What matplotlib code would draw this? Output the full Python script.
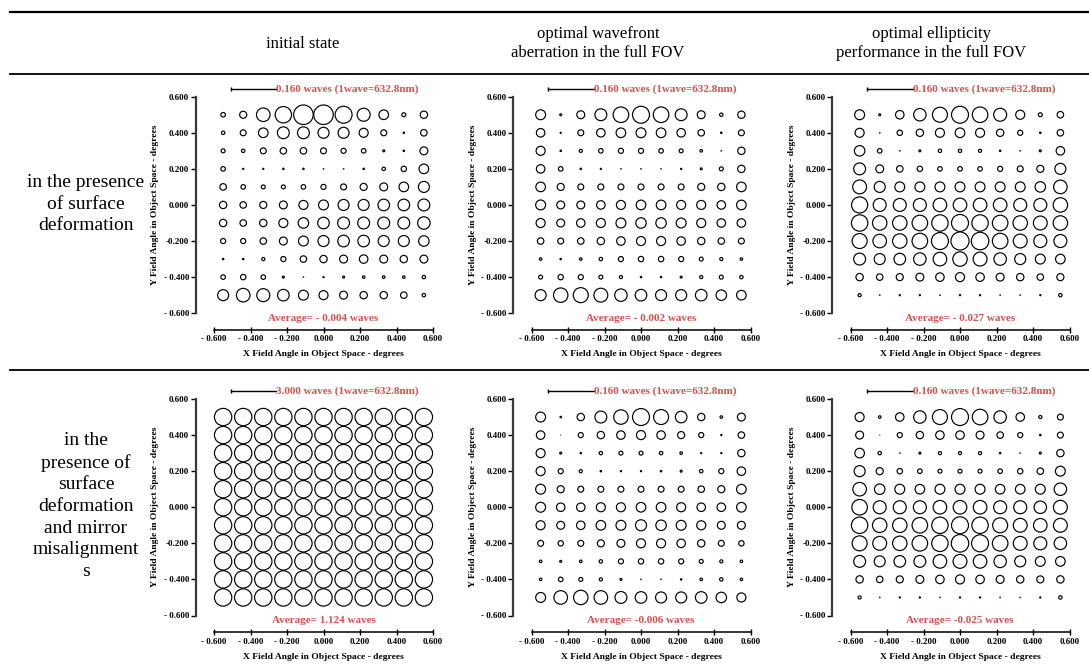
import numpy as np
import matplotlib
matplotlib.use("Agg")
import matplotlib.pyplot as plt
from matplotlib.lines import Line2D

W, H = 1089, 664
plt.rcParams['font.family'] = ['Liberation Serif', 'DejaVu Serif']

# field grid (degrees)
field_x = [-0.55, -0.44, -0.33, -0.22, -0.11, 0.00, 0.11, 0.22, 0.33, 0.44, 0.55]
field_y = [0.50, 0.40, 0.30, 0.20, 0.10, 0.00, -0.10, -0.20, -0.30, -0.40, -0.50]

col_titles = ["initial state",
              "optimal wavefront\naberration in the full FOV",
              "optimal ellipticity\nperformance in the full FOV"]
row_titles = ["in the presence\nof surface\ndeformation",
              "in the\npresence of\nsurface\ndeformation\nand mirror\nmisalignment\ns"]

scale_waves = [[0.160, 0.160, 0.160], [3.000, 0.160, 0.160]]
averages = [["Average= - 0.004 waves", "Average= - 0.002 waves", "Average= - 0.027 waves"],
            ["Average= 1.124 waves", "Average= -0.006 waves", "Average= -0.025 waves"]]

tick_vals = [-0.6, -0.4, -0.2, 0.0, 0.2, 0.4, 0.6]
x_tick_labels = ["- 0.600", "- 0.400", "- 0.200", "0.000", "0.200", "0.400", "0.600"]
y_tick_labels = ["- 0.600", "- 0.400", "-0.200", "0.000", "0.200", "0.400", "0.600"]

# wavefront error magnitude at each field point (waves), rows top -> bottom
wfe_def_initial = [
    [0.016, 0.025, 0.048, 0.058, 0.069, 0.069, 0.060, 0.046, 0.034, 0.014, 0.026],
    [0.012, 0.021, 0.034, 0.042, 0.042, 0.039, 0.039, 0.032, 0.021, 0.005, 0.023],
    [0.014, 0.012, 0.021, 0.023, 0.023, 0.021, 0.018, 0.016, 0.007, 0.005, 0.028],
    [0.016, 0.004, 0.004, 0.005, 0.005, 0.002, 0.002, 0.005, 0.012, 0.019, 0.034],
    [0.023, 0.016, 0.014, 0.014, 0.016, 0.018, 0.021, 0.025, 0.028, 0.034, 0.039],
    [0.026, 0.023, 0.025, 0.028, 0.032, 0.035, 0.039, 0.039, 0.041, 0.041, 0.042],
    [0.026, 0.023, 0.026, 0.032, 0.037, 0.041, 0.042, 0.042, 0.042, 0.042, 0.044],
    [0.018, 0.018, 0.023, 0.028, 0.035, 0.039, 0.041, 0.041, 0.039, 0.039, 0.037],
    [0.005, 0.005, 0.011, 0.018, 0.023, 0.026, 0.028, 0.030, 0.028, 0.026, 0.028],
    [0.016, 0.019, 0.016, 0.007, 0.002, 0.004, 0.007, 0.009, 0.009, 0.009, 0.012],
    [0.039, 0.048, 0.046, 0.041, 0.035, 0.032, 0.028, 0.026, 0.026, 0.023, 0.012],
]
wfe_def_wavefront = [
    [0.035, 0.007, 0.028, 0.042, 0.055, 0.060, 0.055, 0.042, 0.028, 0.012, 0.026],
    [0.030, 0.004, 0.021, 0.030, 0.034, 0.035, 0.034, 0.030, 0.023, 0.005, 0.021],
    [0.032, 0.005, 0.011, 0.016, 0.018, 0.018, 0.016, 0.014, 0.009, 0.002, 0.026],
    [0.030, 0.016, 0.005, 0.004, 0.002, 0.002, 0.002, 0.004, 0.007, 0.014, 0.026],
    [0.034, 0.025, 0.021, 0.021, 0.021, 0.021, 0.021, 0.021, 0.025, 0.026, 0.034],
    [0.035, 0.028, 0.028, 0.030, 0.032, 0.034, 0.034, 0.032, 0.032, 0.030, 0.034],
    [0.032, 0.028, 0.030, 0.032, 0.035, 0.037, 0.037, 0.035, 0.032, 0.030, 0.030],
    [0.023, 0.021, 0.023, 0.026, 0.030, 0.032, 0.032, 0.030, 0.026, 0.023, 0.021],
    [0.009, 0.005, 0.009, 0.012, 0.018, 0.019, 0.019, 0.018, 0.014, 0.011, 0.009],
    [0.014, 0.019, 0.018, 0.014, 0.011, 0.005, 0.005, 0.007, 0.011, 0.014, 0.012],
    [0.039, 0.051, 0.053, 0.049, 0.044, 0.041, 0.039, 0.039, 0.041, 0.037, 0.034],
]
wfe_def_ellipticity = [
    [0.035, 0.007, 0.030, 0.044, 0.053, 0.060, 0.055, 0.046, 0.032, 0.014, 0.023],
    [0.032, 0.002, 0.019, 0.026, 0.032, 0.034, 0.032, 0.026, 0.018, 0.005, 0.023],
    [0.037, 0.016, 0.002, 0.007, 0.012, 0.012, 0.011, 0.005, 0.002, 0.007, 0.030],
    [0.042, 0.028, 0.023, 0.019, 0.016, 0.016, 0.016, 0.018, 0.021, 0.025, 0.039],
    [0.049, 0.039, 0.035, 0.035, 0.035, 0.035, 0.035, 0.035, 0.035, 0.037, 0.048],
    [0.057, 0.046, 0.046, 0.046, 0.048, 0.048, 0.048, 0.048, 0.046, 0.046, 0.051],
    [0.058, 0.051, 0.051, 0.055, 0.058, 0.060, 0.058, 0.055, 0.051, 0.049, 0.051],
    [0.053, 0.048, 0.051, 0.055, 0.060, 0.064, 0.062, 0.055, 0.049, 0.046, 0.046],
    [0.042, 0.039, 0.041, 0.044, 0.048, 0.051, 0.049, 0.044, 0.039, 0.035, 0.034],
    [0.026, 0.023, 0.025, 0.028, 0.030, 0.032, 0.030, 0.028, 0.026, 0.023, 0.025],
    [0.011, 0.002, 0.004, 0.004, 0.002, 0.004, 0.004, 0.002, 0.002, 0.004, 0.012],
]
wfe_mis_initial = [
    [1.15, 1.15, 1.15, 1.15, 1.15, 1.15, 1.15, 1.15, 1.15, 1.15, 1.15],
    [1.15, 1.15, 1.15, 1.15, 1.15, 1.15, 1.15, 1.15, 1.15, 1.15, 1.15],
    [1.15, 1.15, 1.15, 1.15, 1.15, 1.15, 1.15, 1.15, 1.15, 1.15, 1.15],
    [1.15, 1.15, 1.15, 1.15, 1.15, 1.15, 1.15, 1.15, 1.15, 1.15, 1.15],
    [1.15, 1.15, 1.15, 1.15, 1.15, 1.15, 1.15, 1.15, 1.15, 1.15, 1.15],
    [1.15, 1.15, 1.15, 1.15, 1.15, 1.15, 1.15, 1.15, 1.15, 1.15, 1.15],
    [1.15, 1.15, 1.15, 1.15, 1.15, 1.15, 1.15, 1.15, 1.15, 1.15, 1.15],
    [1.15, 1.15, 1.15, 1.15, 1.15, 1.15, 1.15, 1.15, 1.15, 1.15, 1.15],
    [1.15, 1.15, 1.15, 1.15, 1.15, 1.15, 1.15, 1.15, 1.15, 1.15, 1.15],
    [1.15, 1.15, 1.15, 1.15, 1.15, 1.15, 1.15, 1.15, 1.15, 1.15, 1.15],
    [1.15, 1.15, 1.15, 1.15, 1.15, 1.15, 1.15, 1.15, 1.15, 1.15, 1.15],
]
wfe_mis_wavefront = [
    [0.035, 0.005, 0.026, 0.042, 0.051, 0.060, 0.053, 0.041, 0.026, 0.009, 0.028],
    [0.030, 0.001, 0.018, 0.026, 0.030, 0.032, 0.030, 0.025, 0.018, 0.004, 0.023],
    [0.032, 0.007, 0.005, 0.012, 0.014, 0.014, 0.012, 0.009, 0.004, 0.004, 0.026],
    [0.032, 0.018, 0.011, 0.005, 0.004, 0.004, 0.005, 0.007, 0.012, 0.018, 0.030],
    [0.035, 0.025, 0.021, 0.021, 0.021, 0.021, 0.021, 0.021, 0.023, 0.025, 0.034],
    [0.035, 0.030, 0.030, 0.032, 0.032, 0.034, 0.034, 0.032, 0.030, 0.030, 0.034],
    [0.032, 0.028, 0.030, 0.034, 0.035, 0.039, 0.037, 0.035, 0.032, 0.028, 0.028],
    [0.021, 0.019, 0.021, 0.025, 0.028, 0.032, 0.032, 0.030, 0.026, 0.021, 0.019],
    [0.009, 0.007, 0.009, 0.012, 0.018, 0.019, 0.019, 0.018, 0.014, 0.011, 0.009],
    [0.009, 0.016, 0.014, 0.011, 0.007, 0.002, 0.002, 0.005, 0.009, 0.012, 0.009],
    [0.035, 0.048, 0.051, 0.048, 0.042, 0.041, 0.039, 0.039, 0.041, 0.037, 0.032],
]
wfe_mis_ellipticity = [
    [0.032, 0.009, 0.030, 0.044, 0.053, 0.060, 0.055, 0.044, 0.030, 0.011, 0.021],
    [0.028, 0.001, 0.018, 0.026, 0.030, 0.030, 0.028, 0.023, 0.018, 0.005, 0.021],
    [0.034, 0.012, 0.002, 0.007, 0.011, 0.011, 0.011, 0.005, 0.002, 0.007, 0.026],
    [0.039, 0.025, 0.019, 0.016, 0.014, 0.014, 0.014, 0.016, 0.019, 0.023, 0.035],
    [0.048, 0.037, 0.035, 0.034, 0.035, 0.035, 0.035, 0.034, 0.034, 0.035, 0.044],
    [0.055, 0.046, 0.046, 0.046, 0.048, 0.048, 0.048, 0.046, 0.046, 0.044, 0.049],
    [0.058, 0.051, 0.051, 0.055, 0.058, 0.060, 0.058, 0.053, 0.049, 0.048, 0.049],
    [0.053, 0.049, 0.051, 0.055, 0.058, 0.062, 0.060, 0.055, 0.049, 0.046, 0.044],
    [0.042, 0.039, 0.041, 0.042, 0.048, 0.049, 0.048, 0.044, 0.039, 0.035, 0.034],
    [0.026, 0.023, 0.025, 0.028, 0.030, 0.032, 0.030, 0.028, 0.026, 0.025, 0.026],
    [0.011, 0.002, 0.004, 0.004, 0.002, 0.004, 0.004, 0.002, 0.002, 0.004, 0.012],
]
panels = [[wfe_def_initial, wfe_def_wavefront, wfe_def_ellipticity],
          [wfe_mis_initial, wfe_mis_wavefront, wfe_mis_ellipticity]]

RED = '#d6504c'
fig = plt.figure(figsize=(W / 100, H / 100), dpi=100)

# layout in pixels
col_left = [214, 531.5, 850.5]   # x = -0.6
row_top = [96.7, 399]            # y = +0.6
ax_w, ax_h = 219, 216.5
bar_x0, bar_len, bar_y = -0.508, 0.248, 0.643

for r in range(2):
    for c in range(3):
        x0, y0 = col_left[c], row_top[r]
        ax = fig.add_axes([x0 / W, 1 - (y0 + ax_h) / H, ax_w / W, ax_h / H])
        ax.set_xlim(-0.6, 0.6)
        ax.set_ylim(-0.6, 0.6)
        ax.patch.set_visible(False)
        for s in ['top', 'right']:
            ax.spines[s].set_visible(False)
        ax.spines['left'].set_position(('outward', 13))
        ax.spines['left'].set_color('#3a3a3a')
        ax.spines['left'].set_linewidth(1.6)
        ax.spines['bottom'].set_position(('outward', 12))
        ax.spines['bottom'].set_linewidth(1.1)
        ax.set_xticks(tick_vals, x_tick_labels)
        ax.set_yticks(tick_vals, y_tick_labels)
        ax.tick_params(axis='x', direction='inout', length=5, width=1, pad=1.5, labelsize=6.5)
        ax.tick_params(axis='y', direction='out', length=3.5, width=1, pad=1.5, labelsize=6.5)
        for lbl in ax.get_xticklabels() + ax.get_yticklabels():
            lbl.set_fontweight('bold')
        ax.set_xlabel('X Field Angle in Object Space - degrees', fontsize=6.8,
                      fontweight='bold', labelpad=5)
        ax.set_ylabel('Y Field Angle in Object Space - degrees', fontsize=6.8,
                      fontweight='bold', labelpad=3)

        vals = np.array(panels[r][c])
        xx, yy = np.meshgrid(field_x, field_y)
        scale = scale_waves[r][c]
        bar_px = bar_len * ax_w / 1.2
        d_pt = vals / scale * bar_px * 72 / 100
        ax.scatter(xx.ravel(), yy.ravel(), s=d_pt.ravel() ** 2, marker='o',
                   facecolors='none', edgecolors='black', linewidths=0.85, clip_on=False)

        # scale bar
        ax.plot([bar_x0, bar_x0 + bar_len], [bar_y, bar_y], color='black', lw=1, clip_on=False)
        ax.plot([bar_x0], [bar_y], marker='|', ms=3, color='black', clip_on=False)
        ax.text(bar_x0 + bar_len, bar_y, f"{scale:.3f} waves (1wave=632.8nm)", color=RED,
                fontsize=8, fontweight='bold', ha='left', va='center', clip_on=False)
        ax.text(0, -0.628, averages[r][c], color=RED, fontsize=8, fontweight='bold',
                ha='center', va='center', clip_on=False)

# table rules
for yl, lw in [(12, 1.6), (74, 1.3), (370, 1.3)]:
    fig.add_artist(Line2D([10 / W, 1], [1 - yl / H] * 2, color='black', lw=lw))

# column headers
for cx, t in zip([303, 598, 931], col_titles):
    fig.text(cx / W, 1 - 43.5 / H, t, ha='center', va='center', fontsize=12, linespacing=1.3)

# row headers
for cy, t in zip([204, 506], row_titles):
    fig.text(86 / W, 1 - cy / H, t, ha='center', va='center', fontsize=14, linespacing=1.36)

fig.savefig('out.png', dpi=100)
